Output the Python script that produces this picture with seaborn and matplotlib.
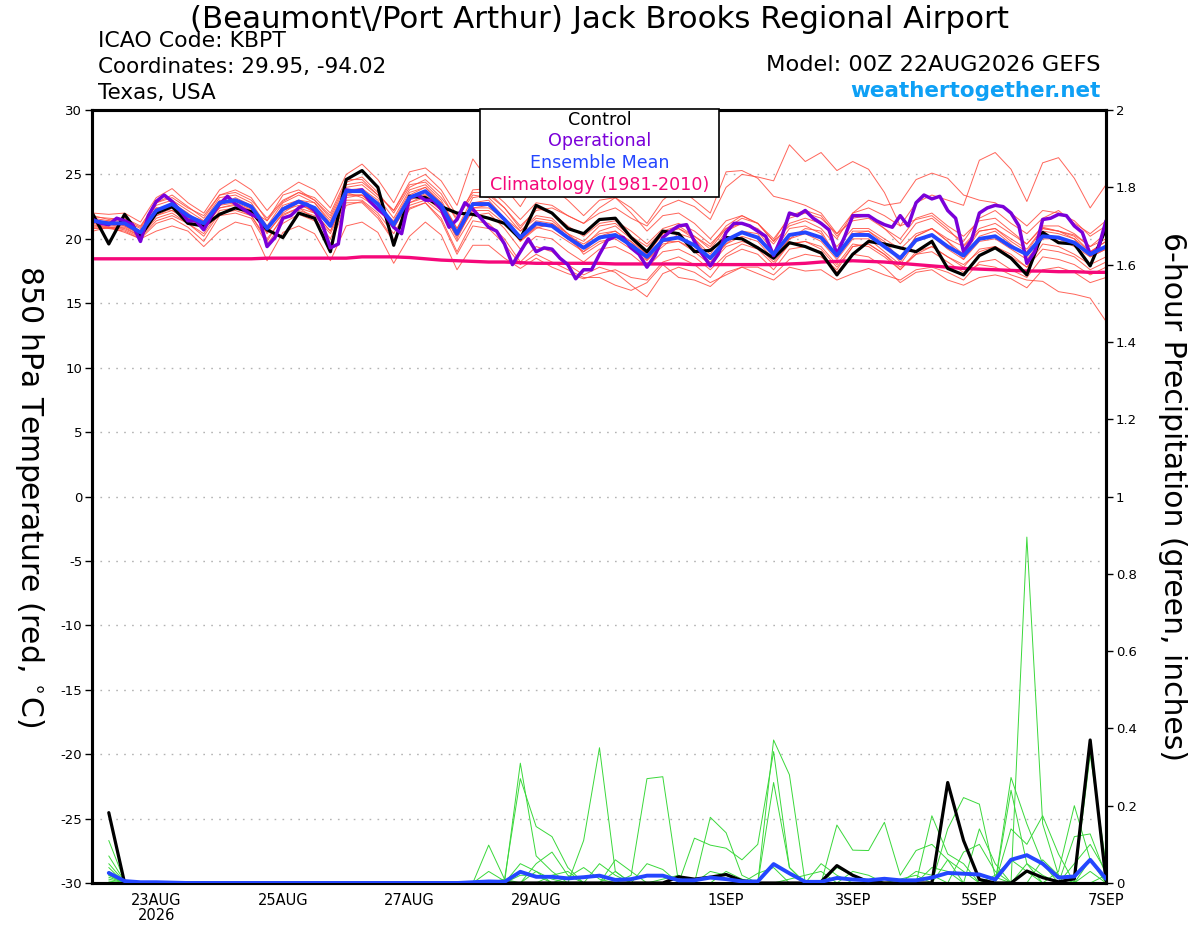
import numpy as np
import pandas as pd
import matplotlib
matplotlib.use("Agg")
import matplotlib.pyplot as plt
import seaborn as sns
from matplotlib.patches import Rectangle

# ---------------- data ----------------
hours6 = np.arange(0, 385, 6)        # 65 steps, control / members / mean / climatology
hours3 = np.arange(0, 385, 3)        # 129 steps, operational run
precip_hours = np.arange(6, 385, 6)  # 64 steps of 6-hour precipitation

control_t = [21.9, 19.6, 21.9, 20.2, 22.0, 22.5, 21.2, 21.0, 21.9, 22.4, 22.1, 20.7, 20.1, 22.0, 21.6, 19.0,
             24.6, 25.3, 24.0, 19.5, 23.3, 23.2, 22.5, 22.0, 21.9, 21.6, 21.2, 20.0, 22.6, 22.0, 20.8, 20.4,
             21.5, 21.6, 20.1, 19.0, 20.6, 20.4, 19.0, 19.1, 20.1, 20.0, 19.3, 18.5, 19.7, 19.4, 18.9, 17.2,
             18.8, 19.8, 19.6, 19.3, 19.0, 19.8, 17.7, 17.2, 18.7, 19.3, 18.5, 17.2, 20.5, 19.7, 19.6, 17.9,
             20.8]
mean_t = [21.4, 21.2, 21.2, 20.5, 22.2, 22.7, 21.8, 21.2, 22.8, 23.0, 22.5, 20.8, 22.3, 22.9, 22.4, 21.0,
          23.7, 23.7, 22.7, 21.1, 23.2, 23.7, 22.6, 20.4, 22.7, 22.7, 21.5, 20.1, 21.2, 21.0, 20.1, 19.3,
          20.1, 20.3, 19.5, 18.6, 19.9, 20.1, 19.5, 18.5, 19.9, 20.5, 20.1, 18.8, 20.3, 20.5, 20.1, 18.7,
          20.3, 20.3, 19.4, 18.5, 19.9, 20.3, 19.4, 18.7, 20.0, 20.2, 19.4, 18.8, 20.2, 20.1, 19.7, 18.8,
          19.4]
clim_t = [18.45, 18.45, 18.45, 18.45, 18.45, 18.45, 18.45, 18.45, 18.45, 18.45, 18.45, 18.5, 18.5, 18.5,
          18.5, 18.5, 18.5, 18.6, 18.6, 18.6, 18.55, 18.45, 18.35, 18.3, 18.25, 18.2, 18.2, 18.15, 18.1,
          18.1, 18.1, 18.1, 18.1, 18.05, 18.05, 18.05, 18.05, 18.05, 18.0, 18.0, 18.0, 18.0, 18.0, 18.0,
          18.05, 18.1, 18.2, 18.25, 18.3, 18.25, 18.2, 18.1, 18.0, 17.9, 17.8, 17.7, 17.65, 17.6, 17.55,
          17.5, 17.5, 17.45, 17.45, 17.4, 17.4]
oper_t = [21.5, 21.2, 21.1, 21.6, 21.4, 21.1, 19.8, 21.8, 22.9, 23.4, 22.9, 22.2, 21.4, 21.4, 20.7, 21.8,
          22.7, 23.3, 22.7, 22.3, 21.9, 21.6, 19.4, 20.1, 21.6, 21.8, 22.4, 22.7, 22.2, 21.1, 19.3, 19.6,
          23.8, 23.7, 23.8, 22.9, 22.3, 21.8, 20.9, 20.4, 23.2, 23.4, 23.0, 23.0, 22.3, 20.9, 21.5, 22.8,
          22.3, 21.6, 20.9, 20.6, 19.6, 18.0, 19.0, 20.0, 19.0, 19.3, 19.2, 18.5, 18.0, 16.9, 17.6, 17.6,
          18.8, 19.9, 20.2, 20.1, 19.3, 18.8, 17.8, 18.7, 20.1, 20.6, 21.0, 21.1, 19.8, 18.8, 17.9, 18.8,
          20.5, 21.2, 21.2, 21.0, 20.6, 20.2, 18.7, 20.1, 22.0, 21.8, 22.2, 21.6, 21.2, 20.7, 18.8, 20.2,
          21.8, 21.8, 21.8, 21.4, 21.1, 20.9, 21.8, 21.0, 22.8, 23.4, 23.1, 23.3, 22.2, 21.6, 19.0, 19.9,
          22.0, 22.4, 22.6, 22.5, 22.0, 21.0, 18.1, 19.0, 21.5, 21.6, 21.9, 21.8, 21.0, 20.5, 18.8, 19.2,
          21.4]

member_t_01 = [21.8, 21.5, 21.6, 21.0, 22.8, 23.4, 22.5, 21.6, 23.4, 23.8, 23.2, 21.4, 22.9, 23.6, 23.0, 21.8,
               24.4, 24.8, 23.6, 22.0, 24.0, 24.6, 23.5, 21.4, 23.8, 23.9, 22.8, 21.5, 22.8, 22.6, 21.8, 21.2,
               22.0, 22.4, 21.6, 21.0, 22.5, 23.0, 22.5, 21.5, 24.0, 25.0, 24.8, 24.5, 27.3, 26.0, 26.7, 25.3,
               26.0, 25.4, 23.6, 21.0, 21.5, 21.8, 20.8, 19.5, 20.8, 21.2, 20.4, 19.6, 20.9, 20.6, 20.3, 19.4,
               20.0]
member_t_02 = [21.2, 20.9, 21.0, 20.3, 22.0, 22.6, 21.6, 20.8, 22.6, 22.8, 22.3, 20.4, 22.0, 22.8, 22.0, 20.6,
               23.4, 23.4, 22.4, 20.8, 23.0, 23.5, 22.4, 20.0, 22.4, 22.6, 21.4, 19.8, 21.0, 21.0, 20.0, 19.0,
               20.2, 20.6, 19.8, 18.8, 20.4, 20.8, 20.2, 19.4, 21.0, 21.8, 21.2, 20.0, 21.6, 22.0, 21.6, 20.4,
               22.0, 22.4, 21.8, 21.0, 22.8, 23.4, 23.0, 22.6, 26.1, 26.7, 25.4, 22.9, 25.9, 26.3, 24.7, 22.4,
               24.2]
member_t_03 = [21.0, 20.9, 20.8, 20.2, 21.8, 22.2, 21.4, 20.8, 22.4, 22.7, 22.2, 20.5, 21.9, 22.4, 22.0, 20.6,
               23.2, 23.4, 22.3, 20.9, 22.8, 23.2, 22.2, 20.2, 22.2, 22.2, 21.2, 19.9, 20.9, 20.6, 19.8, 19.0,
               19.8, 20.0, 19.2, 18.3, 19.6, 19.8, 19.0, 18.0, 19.4, 19.8, 19.4, 18.2, 19.6, 19.8, 19.4, 18.0,
               19.6, 19.4, 18.6, 17.6, 18.8, 19.0, 18.2, 17.4, 18.0, 17.8, 17.2, 16.8, 16.7, 15.9, 15.7, 15.4,
               13.6]
member_t_04 = [20.6, 20.9, 20.5, 20.0, 21.2, 21.6, 20.9, 19.8, 21.8, 22.0, 21.6, 19.6, 21.2, 21.9, 21.4, 19.6,
               22.6, 22.9, 21.8, 19.9, 22.3, 22.8, 21.6, 19.0, 21.4, 21.2, 20.0, 18.2, 19.4, 19.0, 18.0, 17.2,
               17.8, 17.4, 16.4, 15.5, 17.3, 17.8, 17.4, 16.6, 17.2, 17.8, 17.8, 17.2, 18.4, 18.8, 18.6, 17.6,
               19.4, 19.6, 18.8, 17.8, 18.8, 19.4, 18.6, 17.8, 19.2, 19.4, 18.6, 17.8, 19.6, 19.4, 18.8, 18.0,
               18.6]
member_t_05 = [22.0, 21.9, 22.0, 21.3, 23.2, 23.9, 22.8, 22.0, 23.8, 24.6, 23.8, 22.2, 23.6, 24.4, 23.8, 22.4,
               25.0, 25.8, 24.6, 22.8, 25.2, 25.5, 24.5, 22.6, 26.2, 24.5, 24.0, 22.5, 24.5, 24.0, 23.0, 21.8,
               23.0, 23.2, 22.0, 20.6, 21.8, 22.0, 21.2, 20.0, 21.4, 21.8, 21.2, 19.8, 21.0, 21.4, 20.8, 19.4,
               20.8, 20.8, 20.0, 19.2, 20.4, 20.8, 20.0, 19.4, 20.6, 20.8, 20.0, 19.2, 20.8, 20.6, 20.0, 19.0,
               19.8]
member_t_06 = [20.8, 20.8, 20.6, 20.0, 20.6, 21.0, 20.6, 19.4, 20.6, 21.3, 21.0, 18.3, 20.5, 21.0, 20.4, 18.3,
               21.0, 21.3, 20.5, 18.1, 20.2, 21.3, 20.3, 17.6, 19.5, 19.5, 18.5, 17.7, 18.5, 17.8, 17.3, 16.9,
               17.3, 17.6, 17.0, 16.8, 18.2, 18.6, 18.0, 17.0, 18.6, 19.2, 18.8, 17.6, 19.2, 19.4, 19.0, 17.4,
               18.8, 18.6, 17.8, 16.6, 17.4, 17.6, 16.8, 16.4, 17.0, 17.2, 16.9, 16.2, 17.6, 17.8, 17.4, 16.6,
               17.0]
member_t_07 = [21.6, 21.4, 21.4, 20.8, 22.6, 23.0, 22.2, 21.4, 23.2, 23.4, 22.8, 21.0, 22.8, 23.4, 22.8, 21.4,
               24.0, 24.2, 23.2, 21.6, 23.8, 24.2, 23.0, 20.8, 23.2, 23.4, 22.4, 21.0, 22.2, 22.4, 21.8, 21.2,
               22.4, 23.2, 22.4, 21.2, 23.0, 24.0, 23.0, 22.0, 25.2, 25.3, 24.7, 23.3, 23.0, 22.6, 22.0, 20.4,
               21.4, 21.6, 20.8, 20.0, 21.6, 22.0, 21.0, 20.2, 21.4, 21.6, 20.6, 19.6, 21.0, 21.0, 20.4, 19.4,
               20.4]
member_t_08 = [21.3, 21.0, 21.1, 20.6, 22.4, 22.2, 21.6, 21.0, 23.0, 22.8, 22.0, 20.6, 22.6, 23.0, 22.0, 21.2,
               23.4, 23.4, 22.4, 21.4, 23.6, 24.0, 22.8, 20.8, 22.8, 23.0, 21.6, 19.8, 20.8, 21.2, 20.4, 18.8,
               19.6, 20.2, 19.8, 18.4, 19.4, 20.4, 20.0, 18.4, 19.6, 20.6, 20.4, 18.6, 20.0, 20.8, 20.6, 18.6,
               20.6, 20.6, 19.6, 18.2, 20.2, 20.8, 19.8, 18.4, 20.2, 20.6, 19.6, 18.6, 20.6, 20.4, 20.0, 18.6,
               19.2]
member_t_09 = [21.4, 21.3, 21.3, 20.6, 21.8, 22.4, 21.8, 21.4, 22.4, 22.6, 22.2, 21.4, 23.4, 23.8, 23.0, 21.6,
               24.2, 24.4, 23.4, 22.2, 24.2, 24.4, 23.2, 21.6, 23.4, 23.2, 22.0, 20.6, 21.6, 21.4, 20.4, 19.8,
               21.0, 21.2, 20.2, 19.4, 20.6, 21.0, 20.2, 19.2, 20.8, 21.2, 20.8, 19.6, 21.2, 21.6, 21.2, 20.0,
               22.0, 23.0, 22.6, 22.8, 24.6, 25.1, 24.7, 23.4, 23.0, 22.8, 22.0, 21.0, 22.2, 22.0, 21.4, 20.2,
               21.0]
member_t_10 = [21.1, 20.8, 20.9, 20.2, 21.6, 22.0, 21.2, 20.4, 22.2, 22.4, 21.8, 20.0, 21.6, 22.2, 21.8, 20.4,
               23.0, 23.0, 22.0, 20.4, 22.6, 23.0, 22.0, 19.8, 21.8, 22.0, 20.8, 19.2, 20.2, 20.0, 19.0, 18.2,
               19.2, 19.4, 18.8, 17.8, 19.0, 19.2, 18.6, 17.6, 18.8, 19.6, 19.2, 18.0, 19.6, 19.8, 19.2, 17.8,
               19.4, 19.6, 18.8, 17.6, 19.0, 19.4, 18.6, 18.0, 19.0, 19.4, 18.8, 17.8, 19.2, 19.0, 18.6, 17.6,
               18.2]
member_t_11 = [21.7, 21.6, 21.5, 20.9, 22.8, 23.2, 22.4, 21.8, 23.4, 23.6, 23.0, 21.6, 23.0, 23.6, 23.2, 22.0,
               24.6, 24.6, 23.4, 22.2, 24.4, 25.0, 23.8, 21.8, 23.6, 23.6, 22.4, 20.8, 22.4, 22.0, 21.0, 20.2,
               21.2, 21.4, 20.6, 19.6, 20.8, 21.2, 20.6, 19.6, 20.8, 21.6, 21.2, 19.8, 21.8, 22.2, 21.8, 20.2,
               21.6, 21.8, 20.8, 19.6, 21.2, 21.6, 20.6, 19.8, 21.6, 22.2, 21.2, 20.4, 21.6, 22.2, 21.2, 20.4,
               21.4]
member_t_12 = [20.9, 20.9, 20.7, 20.1, 21.4, 21.8, 21.2, 20.2, 22.0, 22.2, 21.8, 19.8, 21.8, 22.4, 21.6, 20.0,
               22.8, 22.8, 21.6, 19.8, 22.4, 22.8, 21.4, 18.8, 21.0, 20.8, 19.6, 18.0, 18.8, 18.2, 17.6, 17.0,
               17.0, 16.4, 16.0, 16.6, 18.0, 17.0, 16.8, 16.3, 17.4, 17.8, 17.3, 16.8, 17.8, 17.5, 17.6, 16.8,
               17.3, 17.7, 17.2, 16.8, 17.6, 17.8, 17.4, 16.8, 18.2, 18.4, 17.6, 17.0, 18.6, 18.4, 18.0, 17.2,
               17.8]
member_t_13 = [21.5, 21.1, 21.3, 20.6, 22.0, 22.8, 22.0, 21.0, 22.6, 23.2, 22.6, 20.6, 22.4, 23.0, 22.8, 21.2,
               23.8, 23.9, 23.0, 21.0, 23.4, 24.0, 22.8, 20.6, 22.4, 22.4, 21.6, 20.6, 21.8, 21.6, 20.4, 19.4,
               20.6, 21.0, 20.0, 18.8, 20.4, 20.8, 20.0, 18.8, 20.6, 21.2, 20.6, 19.0, 20.8, 21.0, 20.4, 18.6,
               20.4, 20.6, 19.8, 18.4, 20.2, 20.8, 19.8, 18.8, 20.6, 20.8, 19.8, 19.0, 20.8, 20.6, 20.2, 19.0,
               19.8]
member_t_14 = [21.2, 21.4, 21.0, 20.4, 22.4, 22.4, 21.6, 21.2, 22.8, 23.0, 22.4, 20.8, 22.2, 22.6, 22.2, 21.0,
               23.6, 23.2, 22.4, 21.2, 22.8, 23.4, 22.2, 20.2, 22.8, 22.8, 21.4, 20.2, 21.4, 21.2, 20.2, 19.6,
               20.4, 20.6, 19.6, 18.4, 19.8, 19.8, 19.2, 18.2, 19.6, 20.2, 19.8, 18.4, 20.0, 20.4, 19.8, 18.4,
               20.0, 20.0, 19.0, 18.0, 19.8, 20.2, 19.2, 18.4, 19.8, 20.0, 19.2, 18.4, 20.0, 20.0, 19.4, 18.6,
               19.2]

control_p = [0.182, 0, 0, 0, 0, 0, 0, 0,
             0, 0, 0, 0, 0, 0, 0, 0,
             0, 0, 0, 0, 0, 0, 0, 0,
             0, 0, 0, 0, 0, 0, 0, 0,
             0, 0, 0, 0, 0.016, 0.01, 0.015, 0.022,
             0.006, 0, 0, 0, 0, 0.003, 0.045, 0.02,
             0.003, 0, 0, 0, 0, 0.26, 0.11, 0.009,
             0, 0, 0.031, 0.014, 0.003, 0.011, 0.37, 0.007]
mean_p = [0.026, 0.005, 0.002, 0.002, 0.001, 0, 0, 0,
          0, 0, 0, 0, 0, 0, 0, 0,
          0, 0, 0, 0, 0, 0, 0, 0.002,
          0.004, 0.003, 0.029, 0.016, 0.016, 0.012, 0.015, 0.019,
          0.008, 0.01, 0.019, 0.019, 0.007, 0.007, 0.014, 0.01,
          0.004, 0.004, 0.049, 0.025, 0.003, 0.003, 0.013, 0.009,
          0.007, 0.011, 0.007, 0.007, 0.014, 0.026, 0.024, 0.022,
          0.009, 0.06, 0.072, 0.05, 0.014, 0.017, 0.06, 0.011]

member_p_01 = [0.11, 0.005, 0.003, 0.003, 0.003, 0.002, 0, 0,
               0, 0, 0, 0, 0, 0, 0, 0,
               0, 0, 0, 0, 0, 0, 0, 0,
               0, 0, 0.31, 0.07, 0.03, 0, 0, 0,
               0, 0, 0, 0, 0, 0, 0.17, 0.13,
               0.02, 0, 0, 0, 0, 0, 0, 0,
               0, 0, 0, 0, 0, 0, 0, 0,
               0, 0, 0.895, 0.153, 0.02, 0, 0, 0]
member_p_02 = [0.07, 0.004, 0.003, 0.003, 0.002, 0.002, 0.003, 0.001,
               0, 0, 0, 0, 0, 0, 0, 0,
               0, 0, 0, 0, 0, 0, 0, 0,
               0, 0.01, 0.27, 0.146, 0.12, 0.04, 0, 0,
               0, 0, 0, 0, 0, 0, 0, 0,
               0, 0, 0.37, 0.28, 0, 0, 0, 0,
               0, 0, 0, 0, 0, 0, 0, 0,
               0, 0.14, 0.10, 0.174, 0.075, 0, 0.06, 0]
member_p_03 = [0.04, 0, 0, 0, 0, 0, 0, 0,
               0, 0, 0, 0, 0, 0, 0, 0,
               0, 0, 0, 0, 0, 0, 0, 0,
               0, 0, 0, 0, 0, 0, 0.11, 0.35,
               0.03, 0, 0, 0, 0, 0, 0, 0,
               0, 0, 0.26, 0.04, 0, 0, 0, 0,
               0, 0, 0, 0, 0, 0.14, 0.221, 0.204,
               0.015, 0, 0, 0, 0, 0, 0.333, 0.05]
member_p_04 = [0.03, 0, 0, 0, 0, 0, 0, 0,
               0, 0, 0, 0, 0, 0, 0, 0,
               0, 0, 0, 0, 0, 0, 0, 0,
               0.098, 0.01, 0, 0, 0, 0, 0, 0,
               0, 0.02, 0.27, 0.275, 0, 0, 0, 0,
               0, 0, 0, 0, 0, 0, 0, 0,
               0, 0, 0, 0, 0.174, 0.075, 0.05, 0,
               0, 0, 0, 0, 0, 0.12, 0.127, 0.02]
member_p_05 = [0.02, 0, 0, 0, 0, 0, 0, 0,
               0, 0, 0, 0, 0, 0, 0, 0,
               0, 0, 0, 0, 0, 0, 0, 0,
               0, 0, 0, 0.05, 0.08, 0.02, 0, 0,
               0, 0, 0, 0, 0, 0.116, 0.098, 0.09,
               0.06, 0.10, 0.34, 0.04, 0, 0, 0, 0,
               0, 0, 0, 0, 0, 0, 0, 0,
               0, 0.273, 0.153, 0.05, 0, 0, 0, 0]
member_p_06 = [0.01, 0, 0, 0, 0, 0, 0, 0,
               0, 0, 0, 0, 0, 0, 0, 0,
               0, 0, 0, 0, 0, 0, 0, 0,
               0, 0, 0.05, 0.03, 0, 0, 0, 0,
               0.06, 0.03, 0, 0, 0, 0, 0, 0,
               0, 0, 0, 0, 0, 0, 0.15, 0.085,
               0.084, 0.157, 0.02, 0.084, 0.10, 0.06, 0, 0,
               0, 0.24, 0.05, 0, 0, 0, 0, 0]
member_p_07 = [0.05, 0.003, 0, 0, 0, 0, 0, 0,
               0, 0, 0, 0, 0, 0, 0, 0,
               0, 0, 0, 0, 0, 0, 0, 0,
               0.03, 0.005, 0, 0, 0.02, 0.03, 0, 0.05,
               0.02, 0, 0, 0, 0, 0, 0.03, 0.02,
               0, 0, 0, 0, 0, 0.05, 0.02, 0,
               0, 0, 0, 0.03, 0.02, 0, 0, 0.14,
               0.05, 0, 0, 0, 0.03, 0.2, 0.06, 0.01]
member_p_08 = [0.015, 0, 0, 0, 0, 0, 0, 0,
               0, 0, 0, 0, 0, 0, 0, 0,
               0, 0, 0, 0, 0, 0, 0, 0,
               0, 0, 0, 0.03, 0.01, 0, 0, 0,
               0, 0, 0.05, 0.035, 0, 0, 0, 0,
               0, 0.025, 0.04, 0, 0, 0, 0, 0.03,
               0.02, 0, 0, 0, 0, 0, 0.08, 0.10,
               0.03, 0, 0, 0.06, 0.02, 0, 0.03, 0]
member_p_09 = [0.02, 0, 0, 0, 0, 0, 0, 0,
               0, 0, 0, 0, 0, 0, 0, 0,
               0, 0, 0, 0, 0, 0, 0, 0,
               0, 0, 0, 0, 0, 0.015, 0.04, 0.01,
               0, 0, 0, 0.01, 0.02, 0, 0, 0,
               0, 0, 0, 0.01, 0.02, 0.03, 0, 0,
               0, 0, 0.01, 0.02, 0, 0.06, 0.03, 0,
               0, 0, 0.05, 0.02, 0, 0.05, 0.10, 0.03]
member_p_10 = [0.005, 0, 0, 0, 0, 0, 0, 0,
               0, 0, 0, 0, 0, 0, 0, 0,
               0, 0, 0, 0, 0, 0, 0, 0,
               0, 0, 0.02, 0.02, 0, 0, 0, 0,
               0.03, 0, 0, 0, 0, 0, 0, 0.03,
               0.01, 0, 0, 0, 0, 0, 0.04, 0.02,
               0, 0, 0, 0, 0.04, 0.03, 0, 0,
               0.02, 0.06, 0.03, 0, 0, 0, 0, 0.02]

temp_members = [member_t_01, member_t_02, member_t_03, member_t_04, member_t_05, member_t_06, member_t_07,
                member_t_08, member_t_09, member_t_10, member_t_11, member_t_12, member_t_13, member_t_14]
precip_members = [member_p_01, member_p_02, member_p_03, member_p_04, member_p_05,
                  member_p_06, member_p_07, member_p_08, member_p_09, member_p_10]

tick_days = [1, 3, 5, 7, 10, 12, 14, 16]
tick_labels = ["23AUG\n2026", "25AUG", "27AUG", "29AUG", "1SEP", "3SEP", "5SEP", "7SEP"]
temp_ticks = list(range(-30, 31, 5))
precip_ticks = [0, 0.2, 0.4, 0.6, 0.8, 1.0, 1.2, 1.4, 1.6, 1.8, 2.0]

# ---------------- tables ----------------
day6 = hours6 / 24.0
day3 = hours3 / 24.0
dayp = precip_hours / 24.0

df_tm = pd.concat([pd.DataFrame({"day": day6, "val": m, "member": k})
                   for k, m in enumerate(temp_members)], ignore_index=True)
df_pm = pd.concat([pd.DataFrame({"day": dayp, "val": m, "member": k})
                   for k, m in enumerate(precip_members)], ignore_index=True)
df_ctl = pd.DataFrame({"day": day6, "val": control_t})
df_mean = pd.DataFrame({"day": day6, "val": mean_t})
df_clim = pd.DataFrame({"day": day6, "val": clim_t})
df_oper = pd.DataFrame({"day": day3, "val": oper_t})
df_ctlp = pd.DataFrame({"day": dayp, "val": control_p})
df_meanp = pd.DataFrame({"day": dayp, "val": mean_p})

# ---------------- style ----------------
sns.set_style("white")
plt.rcParams["font.family"] = ["DejaVu Sans"]
plt.rcParams["text.color"] = "black"
plt.rcParams["axes.labelcolor"] = "black"
plt.rcParams["xtick.color"] = "black"
plt.rcParams["ytick.color"] = "black"

W, H = 1200, 927
fig = plt.figure(figsize=(W / 100, H / 100), dpi=100)
L, R, T, B = 92, 1106, 110, 883
ax = fig.add_axes([L / W, 1 - B / H, (R - L) / W, (B - T) / H])
ax2 = ax.twinx()

RED = "#ff4a3d"
GREEN = "#3ad83a"
PURPLE = "#7a00d9"
BLUE = "#2446ff"
PINK = "#f5087a"

for y in range(-25, 30, 5):
    ax.axhline(y, color="#b3b3b3", lw=1.0, ls=(0, (1.2, 4.5)), zorder=0)

sns.lineplot(data=df_tm, x="day", y="val", units="member", estimator=None, color=RED,
             lw=0.7, alpha=0.85, ax=ax, legend=False, zorder=2)
sns.lineplot(data=df_clim, x="day", y="val", color=PINK, lw=2.4, ax=ax, zorder=3)
sns.lineplot(data=df_ctl, x="day", y="val", color="black", lw=2.3, ax=ax, zorder=4)
sns.lineplot(data=df_oper, x="day", y="val", color=PURPLE, lw=2.5, ax=ax, zorder=5)
sns.lineplot(data=df_mean, x="day", y="val", color=BLUE, lw=2.8, ax=ax, zorder=6)

sns.lineplot(data=df_pm, x="day", y="val", units="member", estimator=None, color=GREEN,
             lw=0.7, ax=ax2, legend=False, zorder=2)
sns.lineplot(data=df_ctlp, x="day", y="val", color="black", lw=2.3, ax=ax2, zorder=4)
sns.lineplot(data=df_meanp, x="day", y="val", color=BLUE, lw=2.8, ax=ax2, zorder=5)

ax.set_xlim(-0.015, 16.0)
ax.set_ylim(-30, 30)
ax2.set_ylim(0, 2)

ax.set_xticks(tick_days)
ax.set_xticklabels(tick_labels, fontsize=10.5, linespacing=1.0)
ax.set_yticks(temp_ticks)
ax.set_yticklabels([str(v) for v in temp_ticks], fontsize=9.5)
ax2.set_yticks(precip_ticks)
ax2.set_yticklabels(["%g" % v for v in precip_ticks], fontsize=9.5)

ax.tick_params(axis="x", direction="out", length=4, width=1, pad=3, colors="black")
ax.tick_params(axis="y", direction="out", length=5, width=1, pad=2, colors="black")
ax2.tick_params(axis="y", direction="out", length=5, width=1, pad=2, colors="black")

ax.set_xlabel("")
ax.set_ylabel("850 hPa Temperature (red, $^{\\circ}$C)", fontsize=21.5, rotation=-90,
              va="center", ha="center")
ax.yaxis.set_label_coords((29 - L) / (R - L), 0.5)
ax2.set_ylabel("6-hour Precipitation (green, inches)", fontsize=21.5, rotation=-90,
               va="center", ha="center")
ax2.yaxis.set_label_coords((1172 - L) / (R - L), 0.5)

for a in (ax, ax2):
    for s in a.spines.values():
        s.set_linewidth(2.2)
        s.set_color("black")

# legend box
bx0, bx1, by0, by1 = 480, 719, 109, 197
ax2.add_patch(Rectangle(((bx0 - L) / (R - L), (B - by1) / (B - T)), (bx1 - bx0) / (R - L),
                        (by1 - by0) / (B - T), transform=ax2.transAxes, facecolor="white",
                        edgecolor="black", lw=1.2, zorder=20, clip_on=False))
leg_items = [("Control", "black", 120), ("Operational", PURPLE, 141),
             ("Ensemble Mean", BLUE, 163), ("Climatology (1981-2010)", PINK, 185)]
for txt, col, yy in leg_items:
    fig.text(600 / W, 1 - yy / H, txt, color=col, fontsize=12.6, ha="center", va="center", zorder=30)

# header texts
fig.text(0.5, 1 - 19 / H, "(Beaumont\\/Port Arthur) Jack Brooks Regional Airport",
         ha="center", va="center", fontsize=22.2)
fig.text(98 / W, 1 - 47 / H, "ICAO Code: KBPT", ha="left", va="baseline", fontsize=15.8)
fig.text(98 / W, 1 - 73 / H, "Coordinates: 29.95, -94.02", ha="left", va="baseline", fontsize=15.5)
fig.text(98 / W, 1 - 99 / H, "Texas, USA", ha="left", va="baseline", fontsize=15.5)
fig.text(1101 / W, 1 - 71 / H, "Model: 00Z 22AUG2026 GEFS", ha="right", va="baseline", fontsize=16.2)
fig.text(1101 / W, 1 - 97 / H, "weathertogether.net", ha="right", va="baseline", fontsize=15.5,
         fontweight="bold", color="#0ea0f5")

fig.savefig("out.png", dpi=100, facecolor="white")
